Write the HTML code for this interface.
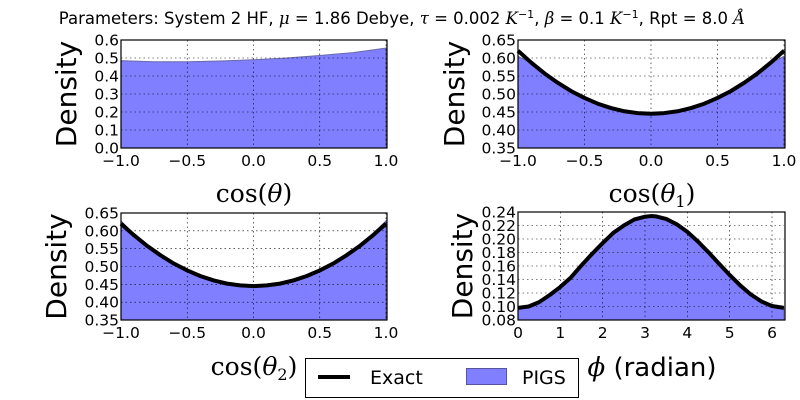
<!DOCTYPE html>
<html><head><meta charset="utf-8"><style>
body{margin:0;background:#fff}
svg{display:block;font-family:"DejaVu Sans","Liberation Sans",sans-serif}
.tick{font-size:15.5px}
.serif{font-family:"DejaVu Serif","Liberation Serif",serif}
</style></head><body>
<svg id="c" width="800" height="400">
<text x="402" y="24" text-anchor="middle" font-size="16.5">Parameters: System 2 HF, <tspan font-style="italic" class="serif">μ</tspan> = 1.86 Debye, <tspan font-style="italic" class="serif">τ</tspan> = 0.002 <tspan font-style="italic" class="serif">K</tspan><tspan font-size="11" dy="-6">−1</tspan><tspan dy="6">, </tspan><tspan font-style="italic" class="serif">β</tspan> = 0.1 <tspan font-style="italic" class="serif">K</tspan><tspan font-size="11" dy="-6">−1</tspan><tspan dy="6">, Rpt = 8.0 </tspan><tspan font-style="italic" class="serif">Å</tspan></text>
<g>
<rect x="305.5" y="358.5" width="273" height="39" fill="#fff" stroke="#000"/>
<line x1="318" y1="377" x2="350" y2="377" stroke="#000" stroke-width="4"/>
<text x="370" y="384" font-size="19">Exact</text>
<rect x="466.5" y="368.5" width="40" height="16" fill="#7f7fff" stroke="#55559f"/>
<text x="522" y="384" font-size="19">PIGS</text>
</g>
</svg>
<script>
// Panel 1: cos(theta)
const p1X = [-1,-0.75,-0.5,-0.25,0,0.25,0.5,0.75,1];
const p1Pigs = [0.485,0.479,0.479,0.483,0.490,0.500,0.514,0.530,0.555];
// Panel 2 & 3: exact and PIGS
const p2X = [-1,-0.9,-0.8,-0.7,-0.6,-0.5,-0.4,-0.3,-0.2,-0.1,0,0.1,0.2,0.3,0.4,0.5,0.6,0.7,0.8,0.9,1];
const p2Exact = [0.620,0.587,0.557,0.531,0.508,0.489,0.473,0.461,0.452,0.447,0.445,0.447,0.452,0.461,0.473,0.489,0.508,0.531,0.557,0.587,0.620];
const p2Pigs = [0.605,0.585,0.556,0.530,0.508,0.489,0.473,0.461,0.452,0.447,0.445,0.447,0.452,0.461,0.473,0.489,0.508,0.531,0.557,0.585,0.605];
const p3Pigs = [0.628,0.590,0.555,0.532,0.507,0.488,0.472,0.460,0.450,0.446,0.443,0.445,0.450,0.460,0.473,0.489,0.508,0.532,0.559,0.592,0.628];
// Panel 4: phi
const p4X = [0,0.25,0.5,0.75,1,1.25,1.5,1.75,2,2.25,2.5,2.75,3,3.14,3.25,3.5,3.75,4,4.25,4.5,4.75,5,5.25,5.5,5.75,6,6.28];
const p4Exact = [0.098,0.100,0.1065,0.117,0.129,0.143,0.161,0.178,0.194,0.209,0.220,0.229,0.233,0.234,0.2336,0.2297,0.2218,0.2105,0.1963,0.1803,0.1634,0.1467,0.1312,0.1178,0.1075,0.1007,0.098];
const p1Ticks=[0,0.1,0.2,0.3,0.4,0.5,0.6];
const p23Ticks=[0.35,0.40,0.45,0.50,0.55,0.60,0.65];
const p4Ticks=[0.08,0.10,0.12,0.14,0.16,0.18,0.20,0.22,0.24];
const cosTicks=[-1,-0.5,0,0.5,1];
const phiTicks=[0,1,2,3,4,5,6];

const NS="http://www.w3.org/2000/svg";
const svg=document.getElementById('c');
function mk(tag,attrs,parent){const e=document.createElementNS(NS,tag);for(const k in attrs)e.setAttribute(k,attrs[k]);(parent||svg).appendChild(e);return e;}

function panel(o){
  const g=mk('g',{});
  
  
  const sx=v=>o.l+(v-o.xmin)/(o.xmax-o.xmin)*(o.r-o.l);
  const sy=v=>o.b-(v-o.ymin)/(o.ymax-o.ymin)*(o.b-o.t);
  if(o.fillX){
    let d='M'+sx(o.fillX[0])+','+sy(o.ymin);
    o.fillX.forEach((x,i)=>d+=' L'+sx(x)+','+sy(o.fillY[i]));
    d+=' L'+sx(o.fillX[o.fillX.length-1])+','+sy(o.ymin)+' Z';
    const f=mk('path',{d:d,fill:'#7f7fff',stroke:'#6a6aa8','stroke-width':1},g);
    
    
  }
  o.xt.forEach(v=>{mk('line',{x1:sx(v),x2:sx(v),y1:o.t,y2:o.b,stroke:'#000','stroke-width':0.6,'stroke-dasharray':'1.5,3'},g);});
  o.yt.forEach(v=>{mk('line',{x1:o.l,x2:o.r,y1:sy(v),y2:sy(v),stroke:'#000','stroke-width':0.6,'stroke-dasharray':'1.5,3'},g);});
  if(o.lineY){
    let d='';
    o.lineX.forEach((x,i)=>d+=(i?' L':'M')+sx(x)+','+sy(o.lineY[i]));
    const ln=mk('path',{d:d,fill:'none',stroke:'#000','stroke-width':4,'stroke-linejoin':'round'},g);
    
    
  }
  mk('rect',{x:o.l,y:o.t,width:o.r-o.l+1,height:o.b-o.t,fill:'none',stroke:'#000','stroke-width':1.2},g);
  o.xt.forEach(v=>{
    const t=mk('text',{x:sx(v),y:o.b+18,'text-anchor':'middle',class:'tick'},g);
    t.textContent=o.xf(v);
    
    
  });
  o.yt.forEach(v=>{
    const t=mk('text',{x:o.l-2,y:sy(v)+5.5,'text-anchor':'end',class:'tick'},g);
    t.textContent=o.yf(v);
    
    
  });
  const yl=mk('text',{x:0,y:0,'font-size':o.ylSize||28,'text-anchor':'middle',transform:'translate('+(o.ylx)+','+((o.t+o.b)/2)+') rotate(-90)'},g);
  yl.textContent='Density';
  
  
  const xl=mk('text',{x:o.xlx,y:o.xly,'text-anchor':'middle','font-size':o.xlSize||25,class:o.xlSerif?'serif':''},g);
  xl.innerHTML=o.xlabel;
  
  
}
const fc=v=>(v<0?'−':'')+Math.abs(v).toFixed(1);
panel({name:'panel-cos-theta',l:121,r:386,t:40,b:148,xmin:-1,xmax:1,ymin:0,ymax:0.6,xt:cosTicks,yt:p1Ticks,xf:fc,yf:v=>v.toFixed(1),fillX:p1X,fillY:p1Pigs,ylx:76,xlx:254,xly:202,xlSerif:true,xlabel:'cos(<tspan font-style="italic">θ</tspan>)'});
panel({name:'panel-cos-theta1',l:518,r:784,t:40,b:148,xmin:-1,xmax:1,ymin:0.35,ymax:0.65,xt:cosTicks,yt:p23Ticks,xf:fc,yf:v=>v.toFixed(2),fillX:p2X,fillY:p2Pigs,lineX:p2X,lineY:p2Exact,ylx:464,xlx:652,xly:202,xlSerif:true,xlabel:'cos(<tspan font-style="italic">θ</tspan><tspan font-size="16" dy="5">1</tspan><tspan dy="-5">)</tspan>'});
panel({name:'panel-cos-theta2',l:121,r:386,t:213,b:320,xmin:-1,xmax:1,ymin:0.35,ymax:0.65,xt:cosTicks,yt:p23Ticks,xf:fc,yf:v=>v.toFixed(2),fillX:p2X,fillY:p3Pigs,lineX:p2X,lineY:p2Exact,ylx:66,xlx:254,xly:375,xlSerif:true,xlabel:'cos(<tspan font-style="italic">θ</tspan><tspan font-size="16" dy="5">2</tspan><tspan dy="-5">)</tspan>'});
panel({name:'panel-phi',l:518,r:784,t:212,b:320,xmin:0,xmax:6.28318,ymin:0.08,ymax:0.24,xt:phiTicks,yt:p4Ticks,xf:v=>String(v),yf:v=>v.toFixed(2),fillX:p4X,fillY:p4Exact,lineX:p4X,lineY:p4Exact,ylx:472,xlx:652,xly:376,xlSize:26,xlabel:'<tspan font-style="italic" class="serif">ϕ</tspan> (radian)'});
</script>
</body></html>
